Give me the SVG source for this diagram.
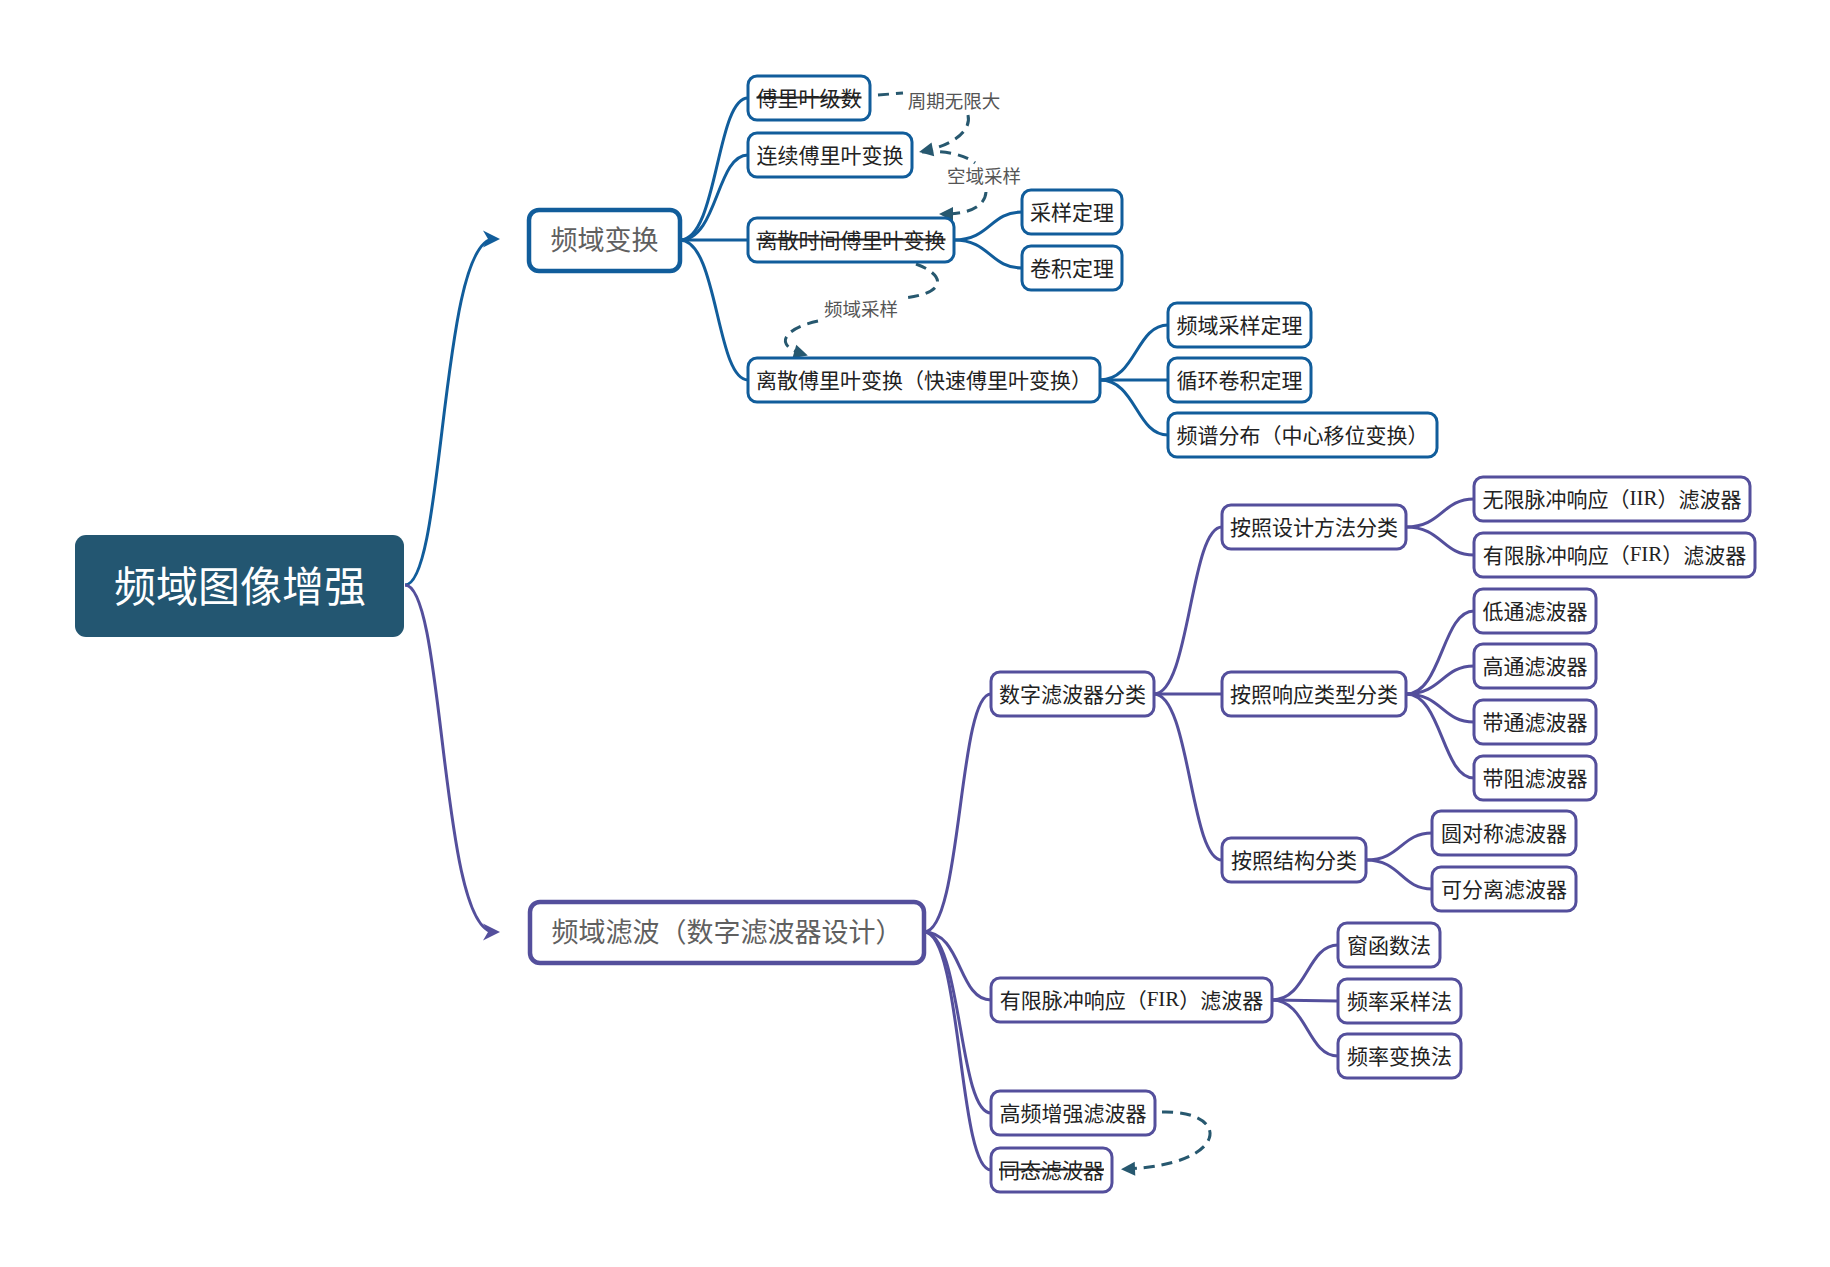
<svg xmlns="http://www.w3.org/2000/svg" width="1830" height="1267" viewBox="0 0 1830 1267">
<style>
.bg{fill:#ffffff}
.root rect{fill:#235671}
.root text{fill:#ffffff;font-family:"Noto Sans CJK SC","Noto Sans",sans-serif;font-size:42px}
.l1b rect{fill:#ffffff;stroke:#115d9b;stroke-width:4.5}
.l1p rect{fill:#ffffff;stroke:#544f9c;stroke-width:4.5}
.l1b text,.l1p text{fill:#606060;font-family:"Noto Sans CJK SC","Noto Sans",sans-serif;font-size:27px}
.nb rect{fill:#ffffff;stroke:#115d9b;stroke-width:3}
.np rect{fill:#ffffff;stroke:#544f9c;stroke-width:3}
.nb text,.np text{fill:#222222;font-family:"Noto Sans CJK SC","Noto Sans",sans-serif;font-size:21px}
text{text-anchor:middle;dominant-baseline:central}
.lat{font-family:"Liberation Serif",serif}
.strike{text-decoration:line-through}
.cb{fill:none;stroke:#115d9b;stroke-width:3}
.cp{fill:none;stroke:#544f9c;stroke-width:3}
.rel{fill:none;stroke:#27586f;stroke-width:3;stroke-dasharray:11 7}
.rl{fill:#555555;font-family:"Noto Sans CJK SC","Noto Sans",sans-serif;font-size:18.5px}
</style>
<defs>
<marker id="ab" viewBox="-20 -12 32 24" refX="0" refY="0" markerWidth="32" markerHeight="24" markerUnits="userSpaceOnUse" orient="auto">
<path d="M6,0 L-11,-8.5 L-6,0 L-11,8.5 Z" fill="#115d9b"/>
</marker>
<marker id="ap" viewBox="-20 -12 32 24" refX="0" refY="0" markerWidth="32" markerHeight="24" markerUnits="userSpaceOnUse" orient="auto">
<path d="M6,0 L-11,-8.5 L-6,0 L-11,8.5 Z" fill="#544f9c"/>
</marker>
<marker id="ar" viewBox="-16 -10 26 20" refX="0" refY="0" markerWidth="26" markerHeight="20" markerUnits="userSpaceOnUse" orient="auto">
<path d="M5,0 L-9,-7 L-9,7 Z" fill="#27586f"/>
</marker>
</defs>
<rect class="bg" x="0" y="0" width="1830" height="1267"/>

<g id="connectors">
<path class="cb" d="M405 585 C445 585 440 239 494 239" marker-end="url(#ab)"/>
<path class="cp" d="M405 585 C445 585 440 932 494 932" marker-end="url(#ap)"/>

<path class="cb" d="M680 240 C718 240 716 98 748 98"/>
<path class="cb" d="M680 240 C718 240 716 155 748 155"/>
<path class="cb" d="M680 240 L748 240"/>
<path class="cb" d="M680 240 C718 240 716 380 748 380"/>
<path class="cb" d="M954 240 C990 240 990 212 1022 212"/>
<path class="cb" d="M954 240 C990 240 990 268 1022 268"/>
<path class="cb" d="M1100 380 C1136 380 1136 325 1168 325"/>
<path class="cb" d="M1100 380 L1168 380"/>
<path class="cb" d="M1100 380 C1136 380 1136 435 1168 435"/>

<path class="cp" d="M924 932 C962 932 958 694 991 694"/>
<path class="cp" d="M924 932 C962 932 958 1000 991 1000"/>
<path class="cp" d="M924 932 C962 932 958 1113 991 1113"/>
<path class="cp" d="M924 932 C962 932 958 1170 991 1170"/>
<path class="cp" d="M1154 694 C1190 694 1190 527 1222 527"/>
<path class="cp" d="M1154 694 L1222 694"/>
<path class="cp" d="M1154 694 C1190 694 1190 860 1222 860"/>
<path class="cp" d="M1406 527 C1442 527 1442 499 1474 499"/>
<path class="cp" d="M1406 527 C1442 527 1442 555 1474 555"/>
<path class="cp" d="M1406 694 C1442 694 1442 611 1474 611"/>
<path class="cp" d="M1406 694 C1442 694 1442 666 1474 666"/>
<path class="cp" d="M1406 694 C1442 694 1442 722 1474 722"/>
<path class="cp" d="M1406 694 C1442 694 1442 778 1474 778"/>
<path class="cp" d="M1366 860 C1401 860 1401 833 1432 833"/>
<path class="cp" d="M1366 860 C1401 860 1401 889 1432 889"/>
<path class="cp" d="M1272 1000 C1307 1000 1307 945 1338 945"/>
<path class="cp" d="M1272 1000 L1338 1001"/>
<path class="cp" d="M1272 1000 C1307 1000 1307 1056 1338 1056"/>

<path class="rel" d="M878 95 L903 93"/>
<path class="rel" d="M968 115 C972 132 950 146 924 151" marker-end="url(#ar)"/>
<text class="rl" x="954" y="100">周期无限大</text>
<path class="rel" d="M922 152 C945 150 965 155 975 163"/>
<path class="rel" d="M986 192 C985 206 970 214 944 214" marker-end="url(#ar)"/>
<text class="rl" x="984" y="175">空域采样</text>
<path class="rel" d="M916 264 C948 276 945 294 903 298"/>
<path class="rel" d="M818 321 C785 328 772 345 803 354" marker-end="url(#ar)"/>
<text class="rl" x="861" y="308">频域采样</text>
<path class="rel" d="M1162 1112 C1232 1110 1230 1165 1126 1169" marker-end="url(#ar)"/>
</g>

<g id="root" class="root"><rect x="75" y="535" width="329" height="102" rx="11"/><text x="240" y="583">频域图像增强</text></g>

<g id="n-freq-transform" class="l1b"><rect x="529" y="210" width="151" height="61" rx="10"/><text x="604.5" y="238">频域变换</text></g>
<g id="n-fourier-series" class="nb"><rect x="748" y="76" width="122" height="44" rx="9"/><text class="strike" x="809" y="96.5">傅里叶级数</text></g>
<g id="n-cft" class="nb"><rect x="748" y="133" width="164" height="44" rx="9"/><text x="830" y="153.5">连续傅里叶变换</text></g>
<g id="n-dtft" class="nb"><rect x="748" y="218" width="206" height="44" rx="9"/><text class="strike" x="851" y="238.5">离散时间傅里叶变换</text></g>
<g id="n-sampling" class="nb"><rect x="1022" y="190" width="100" height="44" rx="9"/><text x="1072" y="210.5">采样定理</text></g>
<g id="n-convolution" class="nb"><rect x="1022" y="246" width="100" height="44" rx="9"/><text x="1072" y="266.5">卷积定理</text></g>
<g id="n-dft" class="nb"><rect x="748" y="358" width="352" height="44" rx="9"/><text x="924" y="378.5">离散傅里叶变换（快速傅里叶变换）</text></g>
<g id="n-freq-sampling" class="nb"><rect x="1168" y="303" width="143" height="44" rx="9"/><text x="1239.5" y="323.5">频域采样定理</text></g>
<g id="n-circ-conv" class="nb"><rect x="1168" y="358" width="143" height="44" rx="9"/><text x="1239.5" y="378.5">循环卷积定理</text></g>
<g id="n-spectrum" class="nb"><rect x="1168" y="413" width="269" height="44" rx="9"/><text x="1302.5" y="433.5">频谱分布（中心移位变换）</text></g>

<g id="n-freq-filter" class="l1p"><rect x="530" y="902" width="394" height="61" rx="10"/><text x="727" y="930">频域滤波（数字滤波器设计）</text></g>
<g id="n-digital-class" class="np"><rect x="991" y="672" width="163" height="44" rx="9"/><text x="1072.5" y="692.5">数字滤波器分类</text></g>
<g id="n-by-design" class="np"><rect x="1222" y="505" width="184" height="44" rx="9"/><text x="1314" y="525.5">按照设计方法分类</text></g>
<g id="n-by-response" class="np"><rect x="1222" y="672" width="184" height="44" rx="9"/><text x="1314" y="692.5">按照响应类型分类</text></g>
<g id="n-by-structure" class="np"><rect x="1222" y="838" width="144" height="44" rx="9"/><text x="1294" y="858.5">按照结构分类</text></g>
<g id="n-iir" class="np"><rect x="1474" y="477" width="276" height="44" rx="9"/><text x="1612" y="497.5">无限脉冲响应（<tspan class="lat">IIR</tspan>）滤波器</text></g>
<g id="n-fir1" class="np"><rect x="1474" y="533" width="281" height="44" rx="9"/><text x="1614.5" y="553.5">有限脉冲响应（<tspan class="lat">FIR</tspan>）滤波器</text></g>
<g id="n-lowpass" class="np"><rect x="1474" y="589" width="122" height="44" rx="9"/><text x="1535" y="609.5">低通滤波器</text></g>
<g id="n-highpass" class="np"><rect x="1474" y="644" width="122" height="44" rx="9"/><text x="1535" y="664.5">高通滤波器</text></g>
<g id="n-bandpass" class="np"><rect x="1474" y="700" width="122" height="44" rx="9"/><text x="1535" y="720.5">带通滤波器</text></g>
<g id="n-bandstop" class="np"><rect x="1474" y="756" width="122" height="44" rx="9"/><text x="1535" y="776.5">带阻滤波器</text></g>
<g id="n-circular" class="np"><rect x="1432" y="811" width="144" height="44" rx="9"/><text x="1504" y="831.5">圆对称滤波器</text></g>
<g id="n-separable" class="np"><rect x="1432" y="867" width="144" height="44" rx="9"/><text x="1504" y="887.5">可分离滤波器</text></g>
<g id="n-fir2" class="np"><rect x="991" y="978" width="281" height="44" rx="9"/><text x="1131.5" y="998.5">有限脉冲响应（<tspan class="lat">FIR</tspan>）滤波器</text></g>
<g id="n-window" class="np"><rect x="1338" y="923" width="102" height="44" rx="9"/><text x="1389" y="943.5">窗函数法</text></g>
<g id="n-freq-samp-method" class="np"><rect x="1338" y="979" width="123" height="44" rx="9"/><text x="1399.5" y="999.5">频率采样法</text></g>
<g id="n-freq-trans-method" class="np"><rect x="1338" y="1034" width="123" height="44" rx="9"/><text x="1399.5" y="1054.5">频率变换法</text></g>
<g id="n-highboost" class="np"><rect x="991" y="1091" width="164" height="44" rx="9"/><text x="1073" y="1111.5">高频增强滤波器</text></g>
<g id="n-homomorphic" class="np"><rect x="991" y="1148" width="121" height="44" rx="9"/><text class="strike" x="1051.5" y="1168.5">同态滤波器</text></g>
</svg>
